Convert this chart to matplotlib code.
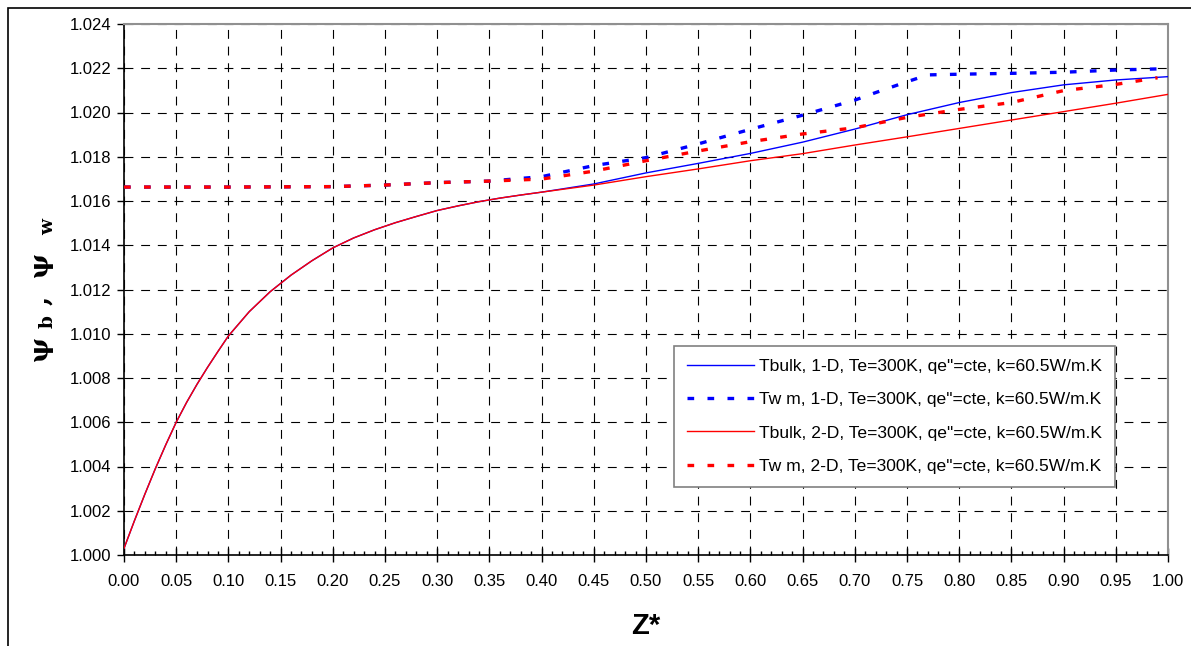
import numpy as np
import matplotlib.pyplot as plt
from matplotlib.patches import Rectangle
from matplotlib.ticker import MultipleLocator

plt.rcParams['font.family'] = ['Liberation Sans', 'DejaVu Sans']
plt.rcParams['mathtext.fontset'] = 'dejavuserif'

# Tbulk - both models coincide at the start
z_bulk_common = [0.00, 0.01, 0.02, 0.03, 0.04, 0.05, 0.06, 0.07, 0.08, 0.09, 0.10,
                 0.12, 0.14, 0.16, 0.18, 0.20, 0.22, 0.24, 0.26, 0.28, 0.30,
                 0.32, 0.34, 0.36, 0.38, 0.40]
psi_bulk_common = [1.00030, 1.00155, 1.00275, 1.00390, 1.00498, 1.00600, 1.00690, 1.00772,
                   1.00848, 1.00920, 1.00990, 1.01100, 1.01190, 1.01265, 1.01330, 1.01388,
                   1.01433, 1.01470, 1.01502, 1.01530, 1.01557, 1.01578, 1.01597, 1.01613,
                   1.01627, 1.01640]

z_bulk_tail = [0.45, 0.50, 0.55, 0.60, 0.65, 0.70, 0.75, 0.80, 0.85, 0.90, 0.95, 1.00]
psi_bulk_1d_tail = [1.01677, 1.01727, 1.01770, 1.01815, 1.01866, 1.01925, 1.01990, 1.02045,
                    1.02090, 1.02125, 1.02147, 1.02162]
psi_bulk_2d_tail = [1.01672, 1.01710, 1.01745, 1.01782, 1.01814, 1.01853, 1.01890, 1.01928,
                    1.01966, 1.02004, 1.02042, 1.02082]

# Tw m - flat part shared by both
z_wall_common = [0.00, 0.10, 0.20, 0.25, 0.30, 0.35]
psi_wall_common = [1.01663, 1.01663, 1.01665, 1.01672, 1.01683, 1.01690]

z_wall_1d_tail = [0.40, 0.45, 0.50, 0.55, 0.60, 0.65, 0.70, 0.72, 0.75, 0.77, 0.80, 0.85, 0.90, 0.95, 0.99]
psi_wall_1d_tail = [1.01710, 1.01760, 1.01796, 1.01858, 1.01924, 1.01988, 1.02056, 1.02090, 1.02139,
                    1.02170, 1.02173, 1.02177, 1.02182, 1.02192, 1.02197]
z_wall_2d_tail = [0.40, 0.45, 0.50, 0.55, 0.60, 0.65, 0.70, 0.75, 0.80, 0.85, 0.90, 0.95, 0.99]
psi_wall_2d_tail = [1.01699, 1.01735, 1.01782, 1.01826, 1.01868, 1.01903, 1.01931, 1.01978,
                    1.02014, 1.02045, 1.02099, 1.02127, 1.02157]

labels = ['Tbulk, 1-D, Te=300K, qe"=cte, k=60.5W/m.K',
          'Tw m, 1-D, Te=300K, qe"=cte, k=60.5W/m.K',
          'Tbulk, 2-D, Te=300K, qe"=cte, k=60.5W/m.K',
          'Tw m, 2-D, Te=300K, qe"=cte, k=60.5W/m.K']

fig = plt.figure(figsize=(11.91, 6.46), dpi=100)
ax = fig.add_axes([124 / 1191, 91 / 646, 1044 / 1191, 531 / 646])

# outer frame (only left and top edges show)
fig.patches.append(Rectangle((8 / 1191, -0.1), 1.2, (646 - 8) / 646 + 0.1,
                             transform=fig.transFigure, fill=False, ec='black', lw=1.2))

dash = (2, 4)
ax.plot(z_bulk_common + z_bulk_tail, psi_bulk_common + psi_bulk_1d_tail,
        color='#0000FF', lw=1.0, label=labels[0], zorder=3)
ax.plot(z_wall_common + z_wall_1d_tail, psi_wall_common + psi_wall_1d_tail,
        color='#0000FF', lw=2.4, dashes=dash, label=labels[1], zorder=3)
ax.plot(z_bulk_common + z_bulk_tail, psi_bulk_common + psi_bulk_2d_tail,
        color='#FF0000', lw=1.0, label=labels[2], zorder=4)
ax.plot(z_wall_common + z_wall_2d_tail, psi_wall_common + psi_wall_2d_tail,
        color='#FF0000', lw=2.4, dashes=dash, label=labels[3], zorder=4)

ax.set_xlim(0, 1)
ax.set_ylim(1.000, 1.024)
ax.xaxis.set_major_locator(MultipleLocator(0.05))
ax.xaxis.set_minor_locator(MultipleLocator(0.01))
ax.yaxis.set_major_locator(MultipleLocator(0.002))
ax.xaxis.set_major_formatter(lambda v, p: f'{v:.2f}')
ax.yaxis.set_major_formatter(lambda v, p: f'{v:.3f}')

ax.grid(True, which='major', color='black', lw=0.8, dashes=(8, 7))
ax.tick_params(axis='both', which='major', labelsize=12, length=5, width=1, color='black')
ax.tick_params(axis='x', which='major', direction='inout', length=10, pad=9)
ax.tick_params(axis='x', which='minor', direction='in', length=3, width=1)
ax.tick_params(axis='y', which='major', direction='out', pad=4)

for s in ['left', 'bottom']:
    ax.spines[s].set_color('black')
    ax.spines[s].set_linewidth(1.2)
for s in ['top', 'right']:
    ax.spines[s].set_color('#909090')
    ax.spines[s].set_linewidth(1.5)

ax.set_xlabel('Z*', fontsize=21, fontweight='bold', labelpad=16)
ax.set_ylabel(r'ψ $_{\mathbf{b}}$ ,  ψ  $_{\mathbf{w}}$', family='DejaVu Serif',
              fontsize=19, fontweight='bold', labelpad=10)

leg = ax.legend(loc='upper left', bbox_to_anchor=(674 / 1191, (646 - 346) / 646),
                bbox_transform=fig.transFigure, fontsize=12.6, frameon=True, fancybox=False,
                framealpha=1, edgecolor='#808080', handlelength=3.8, labelspacing=1.02,
                borderpad=0.75, handletextpad=0.3, borderaxespad=0)
leg.get_frame().set_linewidth(1.2)
leg.set_zorder(10)

fig.savefig('out.png', dpi=100)
